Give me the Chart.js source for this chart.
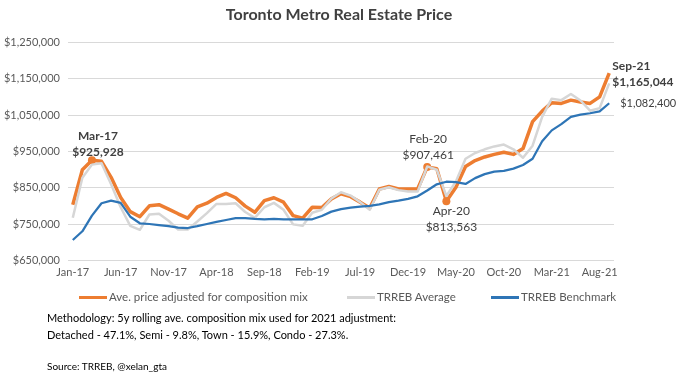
<!DOCTYPE html>
<html>
<head>
<meta charset="utf-8">
<script src="https://cdn.jsdelivr.net/npm/chart.js@4"></script>
<style>
  html, body { margin: 0; padding: 0; background: #fff; }
  #wrap { position: relative; width: 678px; height: 377px; font-family: Lato, sans-serif; }
  #priceChart { position: absolute; left: 0; top: 0; }
  .note { position: absolute; left: 47px; font-size: 11px; line-height: 13px; color: #000; white-space: nowrap; }
  .lg-swatch { position: absolute; top: 295.5px; width: 28px; height: 3px; }
  .lg-text { position: absolute; top: 290px; font-size: 11.5px; line-height: 14px; color: #595959; white-space: nowrap; }
</style>
</head>
<body>
<div id="wrap">
  <canvas id="priceChart" width="678" height="377"></canvas>
  <div id="legend"></div>
  <div class="note" style="top:311px">Methodology: 5y rolling ave. composition mix used for 2021 adjustment:</div>
  <div class="note" style="top:328px">Detached - 47.1%, Semi - 9.8%, Town - 15.9%, Condo - 27.3%.</div>
  <div class="note" style="top:360px;font-size:10px">Source: TRREB, @xelan_gta</div>
</div>
<script>
const months = [
  'Jan-17','Feb-17','Mar-17','Apr-17','May-17','Jun-17','Jul-17','Aug-17','Sep-17','Oct-17','Nov-17','Dec-17',
  'Jan-18','Feb-18','Mar-18','Apr-18','May-18','Jun-18','Jul-18','Aug-18','Sep-18','Oct-18','Nov-18','Dec-18',
  'Jan-19','Feb-19','Mar-19','Apr-19','May-19','Jun-19','Jul-19','Aug-19','Sep-19','Oct-19','Nov-19','Dec-19',
  'Jan-20','Feb-20','Mar-20','Apr-20','May-20','Jun-20','Jul-20','Aug-20','Sep-20','Oct-20','Nov-20','Dec-20',
  'Jan-21','Feb-21','Mar-21','Apr-21','May-21','Jun-21','Jul-21','Aug-21','Sep-21'
];

// Ave. price adjusted for composition mix
const adjustedPrice = [
  804000, 900000, 925928, 923000, 879000, 824000, 785000, 771000, 801000, 804000,
  792000, 779000, 767000, 798000, 808000, 824000, 835000, 823000, 800000, 783000,
  815000, 823000, 811000, 774000, 767000, 797000, 796000, 820000, 834000, 826000,
  811000, 795000, 847000, 854000, 847000, 847000, 847000, 907461, 903000, 813563,
  852000, 909000, 925000, 935000, 942000, 948000, 942000, 958000, 1032000, 1061000,
  1084000, 1082000, 1091000, 1086000, 1082000, 1100000, 1165044
];

const trrebAverage = [
  768000, 878000, 914000, 918000, 860000, 797000, 746000, 735000, 777000, 779000,
  760000, 736000, 736000, 758000, 781000, 806000, 806000, 808000, 784000, 768000,
  797000, 809000, 790000, 750000, 746000, 782000, 790000, 821000, 838000, 829000,
  811000, 790000, 845000, 852000, 844000, 840000, 840000, 909000, 900000, 828000,
  868000, 930000, 946000, 956000, 964000, 969000, 956000, 933000, 966000, 1045000,
  1095000, 1091000, 1108000, 1090000, 1062000, 1069000, 1137000
];

const trrebBenchmark = [
  707000, 731000, 774000, 808000, 815000, 809000, 771000, 753000, 751000, 748000,
  745000, 741000, 740000, 745000, 751000, 757000, 762000, 767000, 767000, 765000,
  764000, 765000, 764000, 764000, 764000, 764000, 773000, 785000, 792000, 796000,
  799000, 801000, 805000, 811000, 815000, 820000, 827000, 843000, 860000, 867000,
  866000, 861000, 877000, 888000, 895000, 897000, 903000, 913000, 930000, 978000,
  1008000, 1025000, 1045000, 1051000, 1055000, 1060000, 1082400
];

const markedMonths = ['Mar-17', 'Feb-20', 'Apr-20'];

const seriesColors = ['#ED7D31', '#D6D6D6', '#2E75B6'];
const textDark = '#404040';
const axisGrey = '#595959';
const fmt = v => '$' + v.toLocaleString('en-US');

// labels next to data points: dataset, month, offset from the point, alignment
const callouts = [
  { ds: 0, month: 'Mar-17', dx: 6, dy: -24, align: 'center', font: 'bold 12px' },
  { ds: 0, month: 'Feb-20', dx: 1, dy: -27.5, align: 'center', font: '12px' },
  { ds: 0, month: 'Apr-20', dx: 5, dy: 10, align: 'center', font: '12px' },
  { ds: 0, month: 'Sep-21', dx: 3, dy: -7, align: 'left', font: 'bold 12px' },
  { ds: 2, month: 'Sep-21', dx: 11, dy: 0, align: 'left', font: '11px', valueOnly: true }
];

const calloutPlugin = {
  id: 'callouts',
  afterDatasetsDraw(chart) {
    const ctx = chart.ctx;
    ctx.save();
    ctx.fillStyle = textDark;
    ctx.textBaseline = 'middle';
    callouts.forEach(c => {
      const idx = months.indexOf(c.month);
      const pt = chart.getDatasetMeta(c.ds).data[idx];
      const value = chart.data.datasets[c.ds].data[idx];
      const lines = c.valueOnly ? [fmt(value)] : [c.month, fmt(value)];
      ctx.font = c.font + ' Lato';
      ctx.textAlign = c.align;
      lines.forEach((t, k) => ctx.fillText(t, pt.x + c.dx, pt.y + c.dy + k * 15.5));
    });
    ctx.restore();
  }
};

const ctx = document.getElementById('priceChart').getContext('2d');
const priceChart = new Chart(ctx, {
  type: 'line',
  data: {
    labels: months,
    datasets: [
      {
        label: 'Ave. price adjusted for composition mix',
        data: adjustedPrice,
        borderColor: seriesColors[0],
        borderWidth: 3.5,
        pointRadius: months.map(m => markedMonths.includes(m) ? 4 : 0),
        pointBorderWidth: 0,
        pointBackgroundColor: seriesColors[0],
        borderJoinStyle: 'round',
        tension: 0,
        order: 3
      },
      {
        label: 'TRREB Average',
        data: trrebAverage,
        borderColor: seriesColors[1],
        borderWidth: 2.5,
        pointRadius: 0,
        borderJoinStyle: 'round',
        tension: 0,
        order: 2
      },
      {
        label: 'TRREB Benchmark',
        data: trrebBenchmark,
        borderColor: seriesColors[2],
        borderWidth: 2.25,
        pointRadius: 0,
        borderJoinStyle: 'round',
        tension: 0,
        order: 1
      }
    ]
  },
  options: {
    responsive: false,
    animation: false,
    layout: { padding: { left: 0, right: 0, top: 0, bottom: 93 } },
    plugins: {
      title: {
        display: true,
        text: 'Toronto Metro Real Estate Price',
        color: textDark,
        font: { family: 'Lato', size: 16, weight: 'bold' },
        padding: { top: 5, bottom: 18 }
      },
      legend: { display: false },
      tooltip: { enabled: false }
    },
    scales: {
      x: {
        offset: true,
        grid: { display: false, drawTicks: false },
        border: { display: false },
        ticks: {
          autoSkip: false,
          maxRotation: 0,
          color: axisGrey,
          font: { family: 'Lato', size: 11 },
          padding: 5,
          callback(v, i) { return i % 5 === 0 ? this.getLabelForValue(v) : ''; }
        }
      },
      y: {
        min: 650000,
        max: 1250000,
        grid: { color: '#D9D9D9', drawTicks: false },
        border: { display: false },
        ticks: {
          stepSize: 100000,
          color: axisGrey,
          font: { family: 'Lato', size: 11 },
          padding: 8,
          callback: v => fmt(v)
        },
        afterFit: s => { s.width = 68; }
      },
      spacer: {
        type: 'linear',
        position: 'right',
        grid: { display: false },
        border: { display: false },
        ticks: { display: false },
        afterFit: s => { s.width = 64; }
      }
    }
  },
  plugins: [calloutPlugin]
});

// legend below the axis, one swatch + label per dataset
const legendLeft = [79, 347, 491];
const legendEl = document.getElementById('legend');
priceChart.data.datasets.forEach((d, i) => {
  const sw = document.createElement('div');
  sw.className = 'lg-swatch';
  sw.style.left = legendLeft[i] + 'px';
  sw.style.background = d.borderColor;
  const tx = document.createElement('div');
  tx.className = 'lg-text';
  tx.style.left = (legendLeft[i] + 30) + 'px';
  tx.textContent = d.label;
  legendEl.appendChild(sw);
  legendEl.appendChild(tx);
});
</script>
</body>
</html>
